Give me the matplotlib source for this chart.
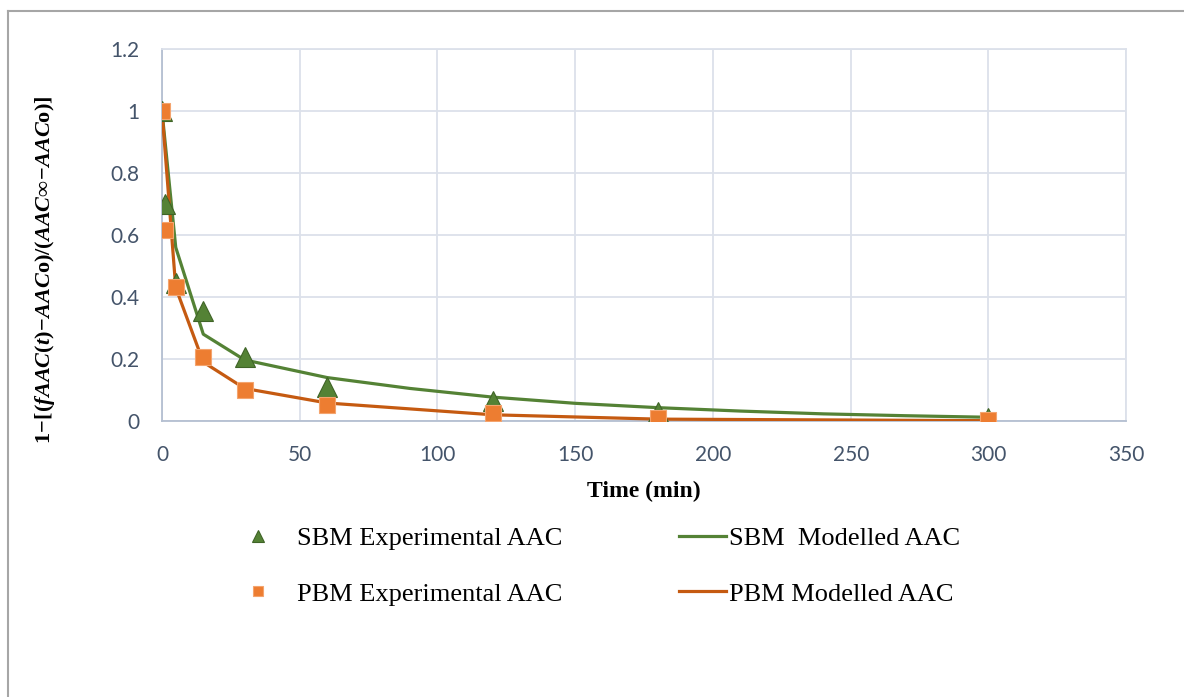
import matplotlib.pyplot as plt
from matplotlib.lines import Line2D

# experimental points (same sampling times for both mills)
time_exp = [0, 1, 5, 15, 30, 60, 120, 180, 300]
sbm_exp = [1.0, 0.70, 0.445, 0.355, 0.205, 0.11, 0.065, 0.03, 0.01]
pbm_exp = [1.0, 0.615, 0.432, 0.205, 0.10, 0.052, 0.026, 0.01, 0.004]

# model curves
time_sbm_mod = [0, 5, 15, 30, 60, 90, 120, 150, 180, 210, 240, 270, 300]
sbm_mod = [1.0, 0.56, 0.28, 0.197, 0.14, 0.105, 0.077, 0.057, 0.043, 0.032, 0.023, 0.017, 0.012]
time_pbm_mod = [0, 5, 15, 30, 60, 120, 180, 300]
pbm_mod = [1.0, 0.43, 0.19, 0.105, 0.058, 0.02, 0.006, 0.001]

x_ticks = [0, 50, 100, 150, 200, 250, 300, 350]
y_ticks = [0, 0.2, 0.4, 0.6, 0.8, 1.0, 1.2]
y_tick_labels = ['0', '0.2', '0.4', '0.6', '0.8', '1', '1.2']

green = '#548235'
green_edge = '#3f6427'
orange = '#ED7D31'
orange_edge = '#F4A46E'
orange_line = '#C55A11'
tick_col = '#44546A'

plt.rcParams['mathtext.fontset'] = 'custom'
plt.rcParams['mathtext.rm'] = 'Liberation Serif:bold'
plt.rcParams['mathtext.bf'] = 'Liberation Serif:bold'
plt.rcParams['mathtext.it'] = 'Liberation Serif:bold:italic'

fig = plt.figure(figsize=(11.84, 6.97), dpi=100)
ax = fig.add_axes([0.1368, 0.396, 0.8144, 0.5337])

ax.plot(time_sbm_mod, sbm_mod, color=green, lw=2.3, zorder=3, label='SBM  Modelled AAC')
ax.plot(time_pbm_mod, pbm_mod, color=orange_line, lw=2.3, zorder=3, label='PBM Modelled AAC')
ax.plot(time_exp, sbm_exp, ls='none', marker='^', ms=15, mfc=green, mec=green_edge, mew=0.8,
        zorder=4, label='SBM Experimental AAC')
ax.plot(time_exp, pbm_exp, ls='none', marker='s', ms=12, mfc=orange, mec=orange_edge, mew=0.8,
        zorder=5, label='PBM Experimental AAC')

ax.set_xlim(0, 350)
ax.set_ylim(0, 1.2)
ax.set_xticks(x_ticks)
ax.set_yticks(y_ticks)
ax.set_yticklabels(y_tick_labels)
ax.tick_params(length=0, labelsize=15, labelcolor=tick_col)
ax.tick_params(axis='y', pad=16)
ax.tick_params(axis='x', pad=17)
for lab in ax.get_xticklabels() + ax.get_yticklabels():
    lab.set_fontfamily('Lato')
ax.grid(True, color='#DCE1EA', lw=1.3)
ax.set_axisbelow(True)
for side in ['top', 'right']:
    ax.spines[side].set_color('#DCE1EA')
    ax.spines[side].set_linewidth(1.3)
for side in ['left', 'bottom']:
    ax.spines[side].set_color('#B4BFD1')
    ax.spines[side].set_linewidth(1.3)

ax.set_xlabel('Time (min)', fontfamily='Liberation Serif', fontweight='bold', fontsize=17, labelpad=12)
ylab = (r'$\mathbf{1}\!-\![(\mathit{fAAC}(\mathit{t})\!-\!\mathit{AAC}\mathrm{o})/'
        r'(\mathit{AAC}\infty\!-\!\mathit{AAC}\mathrm{o})]$')
fig.text(0.038, 0.613, ylab, rotation=90, ha='center', va='center', fontsize=16)

h = {l: hd for hd, l in zip(*ax.get_legend_handles_labels())}
leg_kw = dict(loc='upper left', frameon=False, labelspacing=1.2,
              prop={'family': 'Liberation Serif', 'size': 19})
leg1 = fig.legend([h['SBM Experimental AAC'], h['PBM Experimental AAC']],
                  ['SBM Experimental AAC', 'PBM Experimental AAC'],
                  bbox_to_anchor=(0.1865, 0.278), handlelength=1.0, handletextpad=1.0,
                  markerscale=0.6, **leg_kw)
leg2 = fig.legend([h['SBM  Modelled AAC'], h['PBM Modelled AAC']],
                  ['SBM  Modelled AAC', 'PBM Modelled AAC'],
                  bbox_to_anchor=(0.553, 0.278), handlelength=1.8, handletextpad=0.1, **leg_kw)

# outer chart frame (left and top edges)
fig.add_artist(Line2D([0.0068, 0.0068], [0.0, 0.984], color='#A6A6A6', lw=1.5))
fig.add_artist(Line2D([0.0068, 1.0], [0.984, 0.984], color='#A6A6A6', lw=1.5))

fig.savefig('out.png', dpi=100)
